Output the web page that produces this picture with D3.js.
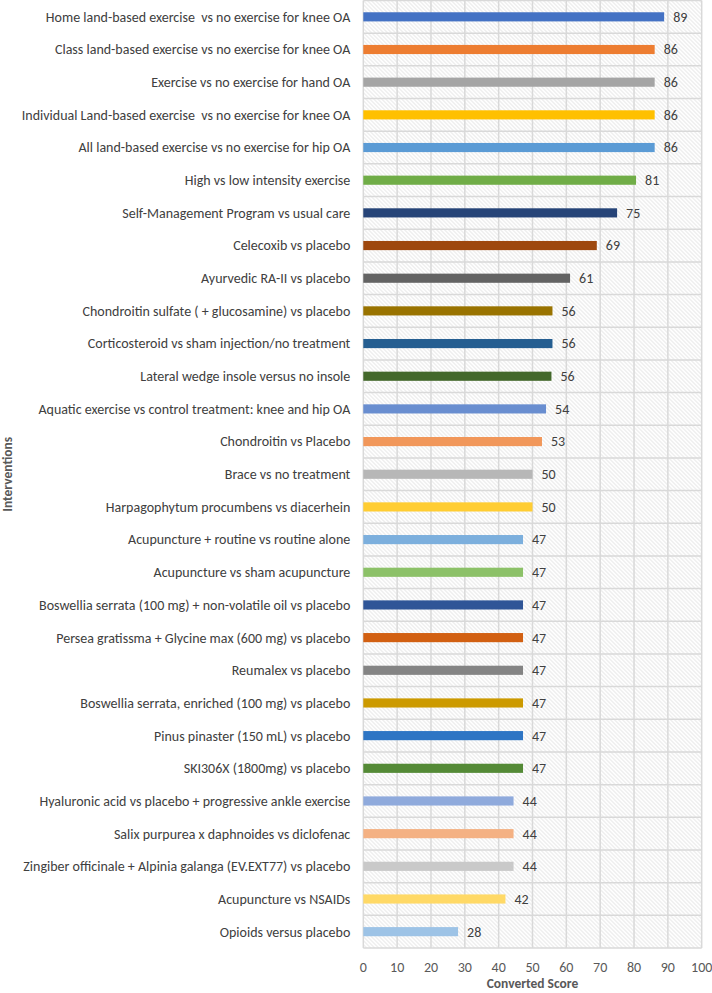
<!DOCTYPE html>
<html>
<head>
<meta charset="utf-8">
<script src="https://cdn.jsdelivr.net/npm/d3@7"></script>
<style>
  body { margin: 0; background: #fff; }
  svg { display: block; font-family: Carlito, Lato, "Open Sans", sans-serif; }
  .cat { white-space: pre; }
</style>
</head>
<body>
<div class="canvas"></div>
<script>
// Data
const interventions = [
  "Home land-based exercise  vs no exercise for knee OA",
  "Class land-based exercise vs no exercise for knee OA",
  "Exercise vs no exercise for hand OA",
  "Individual Land-based exercise  vs no exercise for knee OA",
  "All land-based exercise vs no exercise for hip OA",
  "High vs low intensity exercise",
  "Self-Management Program vs usual care",
  "Celecoxib vs placebo",
  "Ayurvedic RA-II vs placebo",
  "Chondroitin sulfate ( + glucosamine) vs placebo",
  "Corticosteroid vs sham injection/no treatment",
  "Lateral wedge insole versus no insole",
  "Aquatic exercise vs control treatment: knee and hip OA",
  "Chondroitin vs Placebo",
  "Brace vs no treatment",
  "Harpagophytum procumbens vs diacerhein",
  "Acupuncture + routine vs routine alone",
  "Acupuncture vs sham acupuncture",
  "Boswellia serrata (100 mg) + non-volatile oil vs placebo",
  "Persea gratissma + Glycine max (600 mg) vs placebo",
  "Reumalex vs placebo",
  "Boswellia serrata, enriched (100 mg) vs placebo",
  "Pinus pinaster (150 mL) vs placebo",
  "SKI306X (1800mg) vs placebo",
  "Hyaluronic acid vs placebo + progressive ankle exercise",
  "Salix purpurea x daphnoides vs diclofenac",
  "Zingiber officinale + Alpinia galanga (EV.EXT77) vs placebo",
  "Acupuncture vs NSAIDs",
  "Opioids versus placebo"
];
const scores = [
  88.9, 86.1, 86.1, 86.1, 86.1, 80.6, 75, 69, 61.1, 55.9, 55.9, 55.6, 54, 52.8,
  50, 50, 47.2, 47.2, 47.2, 47.2, 47.2, 47.2, 47.2, 47.2, 44.4, 44.4, 44.4, 42, 28
];
const barColors = [
  "#4472C4", "#ED7D31", "#A5A5A5", "#FFC000", "#5B9BD5", "#70AD47",
  "#264478", "#9E480E", "#636363", "#997300", "#255E91", "#43682B",
  "#698ED0", "#F1975A", "#B7B7B7", "#FFCD33", "#7CAFDD", "#8CC168",
  "#2F5597", "#D26012", "#848484", "#CC9A00", "#2E75C4", "#548A36",
  "#8FAADC", "#F4B183", "#C9C9C9", "#FFD966", "#9DC3E6"
];
const xTicks = [0, 10, 20, 30, 40, 50, 60, 70, 80, 90, 100];

const data = interventions.map((name, i) => ({ name, value: scores[i], color: barColors[i] }));

// Setup
const width = 712, height = 993;
const margin = { top: 0.5, left: 363.3, right: 10.3, bottom: 45 };
const graphWidth = width - margin.left - margin.right;
const graphHeight = 948 - margin.top;

const svg = d3.select(".canvas").append("svg")
  .attr("width", width).attr("height", height);

// Hatch pattern for the plot area
const defs = svg.append("defs");
const pat = defs.append("pattern")
  .attr("id", "hatch")
  .attr("patternUnits", "userSpaceOnUse")
  .attr("width", 4).attr("height", 4);
pat.append("rect").attr("width", 4).attr("height", 4).attr("fill", "#fff");
pat.append("path")
  .attr("d", "M-1,-1 L5,5 M-1,3 L1,5 M3,-1 L5,1")
  .attr("stroke", "#dadada")
  .attr("stroke-width", 0.9);

const graph = svg.append("g").attr("transform", `translate(${margin.left},${margin.top})`);

// Scales
const x = d3.scaleLinear().domain([0, 100]).range([0, graphWidth]);
const y = d3.scaleBand().domain(interventions).range([0, graphHeight]).paddingInner(0.72).paddingOuter(0.36);
const rows = d3.scaleBand().domain(interventions).range([0, graphHeight]);

graph.append("rect")
  .attr("width", graphWidth).attr("height", graphHeight)
  .attr("fill", "url(#hatch)");

// Gridlines
graph.selectAll(".vgrid").data(xTicks).enter().append("line")
  .attr("x1", d => x(d)).attr("x2", d => x(d))
  .attr("y1", 0).attr("y2", graphHeight)
  .attr("stroke", "#d9d9d9").attr("stroke-width", 1.5);

const hLines = interventions.map(d => rows(d)).concat([graphHeight]);
graph.selectAll(".hgrid").data(hLines).enter().append("line")
  .attr("x1", 0).attr("x2", graphWidth)
  .attr("y1", d => d).attr("y2", d => d)
  .attr("stroke", "#d9d9d9").attr("stroke-width", 1.5);

// Bars
graph.selectAll(".bar").data(data).enter().append("rect")
  .attr("class", "bar")
  .attr("x", x(0))
  .attr("y", d => y(d.name))
  .attr("width", d => x(d.value) - x(0))
  .attr("height", y.bandwidth())
  .attr("fill", d => d.color);

// Value labels
graph.selectAll(".val").data(data).enter().append("text")
  .attr("x", d => x(d.value) + 9)
  .attr("y", d => y(d.name) + y.bandwidth() / 2)
  .attr("dy", "0.35em")
  .attr("font-size", 14)
  .attr("fill", "#404040")
  .text(d => Math.round(d.value));

// Category labels
graph.selectAll(".cat").data(interventions).enter().append("text")
  .attr("class", "cat")
  .attr("x", -13)
  .attr("y", d => rows(d) + rows.bandwidth() / 2)
  .attr("dy", "0.35em")
  .attr("text-anchor", "end")
  .attr("font-size", 14)
  .attr("fill", "#404040")
  .text(d => d);

// X tick labels
graph.selectAll(".tick").data(xTicks).enter().append("text")
  .attr("x", d => x(d))
  .attr("y", 967 - margin.top)
  .attr("dy", "0.35em")
  .attr("text-anchor", "middle")
  .attr("font-size", 14)
  .attr("fill", "#595959")
  .text(d => d);

// Axis titles
svg.append("text")
  .attr("x", margin.left + graphWidth / 2)
  .attr("y", 983.5)
  .attr("dy", "0.35em")
  .attr("text-anchor", "middle")
  .attr("font-size", 13.5)
  .attr("font-weight", "bold")
  .attr("fill", "#595959")
  .text("Converted Score");

svg.append("text")
  .attr("transform", `translate(7.5,${margin.top + graphHeight / 2}) rotate(-90)`)
  .attr("dy", "0.35em")
  .attr("text-anchor", "middle")
  .attr("font-size", 13.5)
  .attr("font-weight", "bold")
  .attr("fill", "#595959")
  .text("Interventions");
</script>
</body>
</html>
